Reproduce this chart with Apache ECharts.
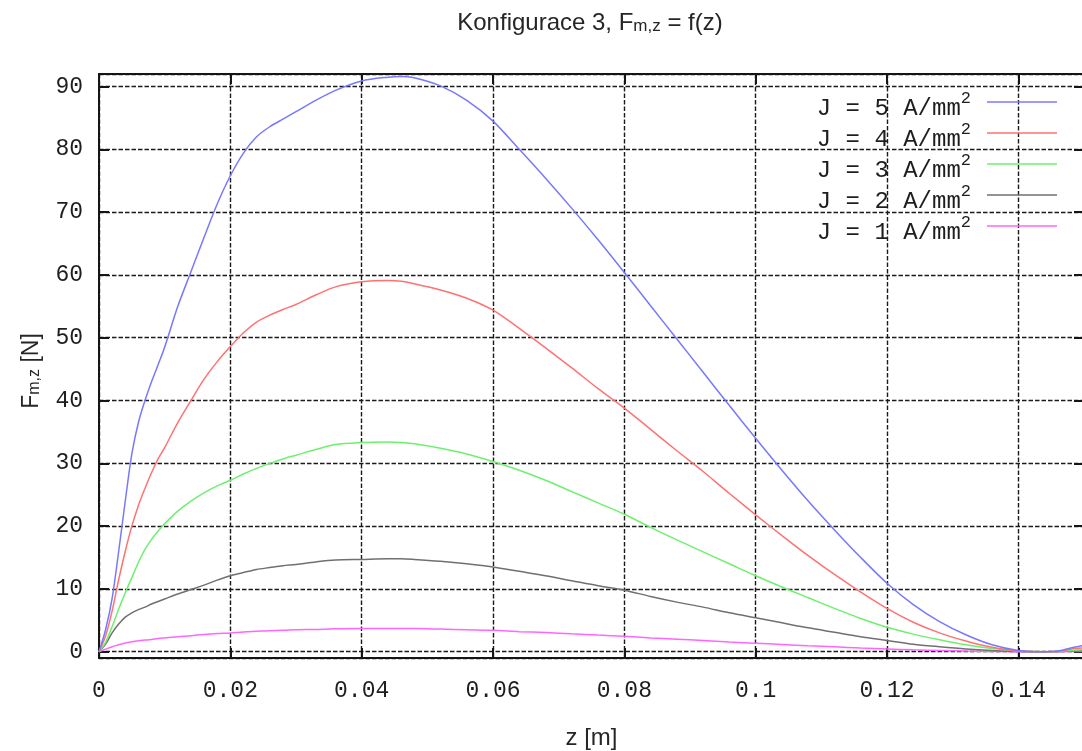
<!DOCTYPE html>
<html>
<head>
<meta charset="utf-8">
<script src="https://cdn.jsdelivr.net/npm/echarts@6/dist/echarts.min.js"></script>
<style>
  html, body { margin: 0; padding: 0; background: #ffffff; }
  #chart { width: 1082px; height: 751px; }
</style>
</head>
<body>
<div id="chart"></div>
<script>
// Axial magnetic force F_m,z versus position z for five current densities
const zValues = [0, 0.001, 0.002, 0.003, 0.004, 0.005, 0.006, 0.007, 0.008, 0.009, 0.010,
  0.012, 0.014, 0.016, 0.018, 0.020, 0.022, 0.024, 0.026, 0.028, 0.030,
  0.033, 0.036, 0.040, 0.044, 0.046, 0.048,
  0.052, 0.056, 0.060, 0.064, 0.068, 0.072, 0.076, 0.080, 0.084, 0.088, 0.092, 0.096, 0.100,
  0.104, 0.108, 0.112, 0.116, 0.120, 0.124, 0.128, 0.132, 0.136, 0.140, 0.144,
  0.146, 0.148, 0.150];

const forceJ5 = [0, 3.5, 8.5, 16, 24, 31.5, 36.5, 40, 43, 45.7, 48.5,
  55, 60.5, 66, 71.3, 75.8, 79.4, 82, 83.6, 84.8, 86,
  87.8, 89.4, 90.9, 91.5, 91.6, 91.4,
  90.1, 87.8, 84.5, 80.0, 75.4, 70.6, 65.6, 60.4, 55.1, 49.8, 44.5, 39.2, 34.0,
  28.9, 24.0, 19.4, 15.0, 10.9, 7.5, 4.8, 2.7, 1.1, 0.2, 0.0,
  0.1, 0.6, 1.0];

const forceJ4 = [0, 2.5, 6.5, 11.5, 16, 20, 23.3, 26, 28.5, 30.7, 32.5,
  36.5, 40, 43.4, 46.2, 48.6, 50.8, 52.5, 53.6, 54.5, 55.3,
  56.8, 58.1, 58.9, 59.1, 59.0, 58.6,
  57.6, 56.3, 54.4, 51.5, 48.4, 45.2, 41.9, 38.8, 35.4, 32.0, 28.7, 25.2, 21.8,
  18.5, 15.3, 12.3, 9.5, 6.9, 4.7, 3.0, 1.7, 0.7, 0.1, 0.0,
  0.05, 0.4, 0.6];

const forceJ3 = [0, 1.5, 4, 6.8, 9.4, 11.8, 14.2, 16.3, 17.9, 19.2, 20.4,
  22.4, 24.0, 25.3, 26.4, 27.3, 28.3, 29.2, 30.0, 30.7, 31.3,
  32.2, 33.0, 33.3, 33.4, 33.3, 33.1,
  32.4, 31.5, 30.3, 28.9, 27.3, 25.5, 23.7, 21.9, 19.8, 17.8, 15.9, 14.0, 12.1,
  10.3, 8.6, 6.9, 5.3, 3.9, 2.8, 1.9, 1.1, 0.5, 0.1, 0.0,
  0.03, 0.2, 0.35];

const forceJ2 = [0, 1.2, 3.0, 4.4, 5.5, 6.2, 6.7, 7.1, 7.6, 8.0, 8.4,
  9.2, 9.9, 10.6, 11.4, 12.1, 12.6, 13.1, 13.4, 13.7, 13.9,
  14.3, 14.6, 14.7, 14.8, 14.8, 14.7,
  14.4, 14.0, 13.5, 12.8, 12.1, 11.3, 10.5, 9.8, 8.8, 7.9, 7.1, 6.2, 5.4,
  4.6, 3.8, 3.1, 2.4, 1.8, 1.2, 0.8, 0.45, 0.2, 0.03, 0,
  0.02, 0.1, 0.15];

const forceJ1 = [0, 0.4, 0.8, 1.1, 1.4, 1.6, 1.75, 1.85, 1.95, 2.1, 2.2,
  2.4, 2.55, 2.75, 2.9, 3.0, 3.15, 3.25, 3.35, 3.4, 3.5,
  3.55, 3.65, 3.7, 3.7, 3.7, 3.7,
  3.6, 3.5, 3.4, 3.2, 3.05, 2.85, 2.65, 2.45, 2.2, 2.0, 1.8, 1.55, 1.35,
  1.15, 0.95, 0.78, 0.6, 0.45, 0.3, 0.2, 0.11, 0.05, 0.01, 0,
  0, 0.03, 0.04];

const seriesNames = ['J = 5 A/mm²', 'J = 4 A/mm²', 'J = 3 A/mm²', 'J = 2 A/mm²', 'J = 1 A/mm²'];
const seriesValues = [forceJ5, forceJ4, forceJ3, forceJ2, forceJ1];
const seriesColors = ['#7878ff', '#ff7272', '#6ef06e', '#707070', '#ff66ff'];

const xMin = 0, xMax = 0.15, xStep = 0.02;
const yMin = -1, yMax = 92, yStep = 10;

const monoFont = '"Liberation Mono", "Courier New", monospace';
const sansFont = '"Liberation Sans", Arial, sans-serif';
const ink = '#1e1e1e';
const textInk = '#262626';

const chart = echarts.init(document.getElementById('chart'), null, { renderer: 'canvas' });

const gridDash = { color: '#1a1a1a', width: 1.4, type: [4.5, 2] };
const frame = { color: '#151515', width: 2 };

// Rich styles for labels with a subscript (F with m,z)
function subscriptRich(size) {
  return {
    a: { fontFamily: sansFont, fontSize: size, fontWeight: 'normal', color: textInk, lineHeight: 26, verticalAlign: 'bottom' },
    s: { fontFamily: sansFont, fontSize: Math.round(size * 0.7), fontWeight: 'normal', color: textInk, lineHeight: 10, verticalAlign: 'bottom' }
  };
}

const option = {
  backgroundColor: '#ffffff',
  animation: false,
  title: {
    text: '{a|Konfigurace 3, F}{s|m,z}{a| = f(z)}',
    left: 590,
    textAlign: 'center',
    top: 9,
    padding: 0,
    textStyle: { fontWeight: 'normal', rich: subscriptRich(24) }
  },
  legend: {
    orient: 'vertical',
    right: 25,
    top: 90,
    padding: 0,
    align: 'right',
    icon: 'rect',
    itemWidth: 70,
    itemHeight: 1.5,
    itemGap: 0,
    data: seriesNames,
    formatter: function (name) {
      return '{a|' + name.replace('²', '') + '}{p|2}';
    },
    textStyle: {
      rich: {
        a: { fontFamily: monoFont, fontSize: 24, color: ink, lineHeight: 24, padding: [7, 0, 0, 0], verticalAlign: 'top' },
        p: { fontFamily: monoFont, fontSize: 17, color: ink, lineHeight: 10, padding: [0, 11, 0, 0], verticalAlign: 'top' }
      }
    }
  },
  grid: { left: 99, right: -2, top: 74, bottom: 93, containLabel: false, outerBoundsMode: 'none' },
  xAxis: [
    {
      type: 'value',
      position: 'bottom',
      min: xMin,
      max: xMax,
      interval: xStep,
      name: 'z [m]',
      nameLocation: 'middle',
      nameGap: 68,
      nameTextStyle: { fontFamily: sansFont, fontSize: 24, color: textInk },
      axisLine: { show: true, onZero: false, lineStyle: frame },
      axisTick: { show: true, inside: true, length: 10, lineStyle: frame },
      axisLabel: {
        fontFamily: monoFont, fontSize: 23, color: ink, margin: 21,
        showMaxLabel: false
      },
      splitLine: { show: true, lineStyle: gridDash }
    },
    {
      type: 'value',
      position: 'top',
      min: xMin,
      max: xMax,
      interval: xStep,
      axisLine: { show: true, onZero: false, lineStyle: frame },
      axisTick: { show: true, inside: true, length: 10, lineStyle: frame },
      axisLabel: { show: false },
      splitLine: { show: false }
    }
  ],
  yAxis: [
    {
      type: 'value',
      position: 'left',
      min: yMin,
      max: yMax,
      splitNumber: 9,
      minInterval: yStep,
      maxInterval: yStep,
      name: '{a|F}{s|m,z}{a| [N]}',
      nameLocation: 'middle',
      nameRotate: 90,
      nameGap: 56,
      nameTextStyle: { rich: subscriptRich(23), padding: [0, 10, 0, 0] },
      axisLine: { show: true, onZero: false, lineStyle: frame },
      axisTick: { show: true, inside: true, length: 10, lineStyle: frame },
      axisLabel: {
        fontFamily: monoFont, fontSize: 23, color: ink, margin: 16,
        showMinLabel: false, showMaxLabel: false
      },
      splitLine: { show: true, lineStyle: gridDash }
    },
    {
      type: 'value',
      position: 'right',
      min: yMin,
      max: yMax,
      splitNumber: 9,
      minInterval: yStep,
      maxInterval: yStep,
      axisLine: { show: true, onZero: false, lineStyle: frame },
      axisTick: { show: true, inside: true, length: 10, lineStyle: frame },
      axisLabel: { show: false },
      splitLine: { show: false }
    }
  ],
  series: seriesNames.map(function (name, i) {
    return {
      name: name,
      type: 'line',
      xAxisIndex: 0,
      yAxisIndex: 0,
      symbol: 'none',
      showSymbol: false,
      smooth: 0.3,
      color: seriesColors[i],
      lineStyle: { color: seriesColors[i], width: 1.5 },
      data: zValues.map(function (z, k) { return [z, seriesValues[i][k]]; }),
      z: 10 - i
    };
  })
};

chart.setOption(option);
</script>
</body>
</html>
